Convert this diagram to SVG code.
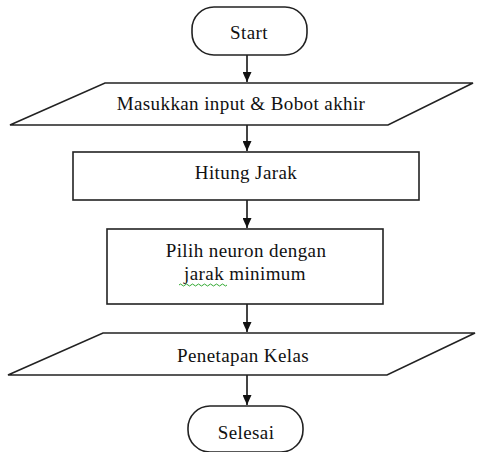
<svg xmlns="http://www.w3.org/2000/svg" width="477" height="452" viewBox="0 0 477 452">
<style>
.shape{fill:#fff;stroke:#222;stroke-width:1.6}
.lbl{font-family:"Liberation Serif","Times New Roman",serif;font-size:19px;letter-spacing:0.4px;fill:#111;text-anchor:middle;dominant-baseline:central}
.conn{stroke:#444;stroke-width:2;fill:none;marker-end:url(#arr)}
</style>
<defs>
<marker id="arr" viewBox="0 0 10 10" refX="10" refY="5" markerWidth="10" markerHeight="9" markerUnits="userSpaceOnUse" orient="auto" preserveAspectRatio="none">
<path d="M0,0 L10,5 L0,10 z" fill="#111"/>
</marker>
</defs>
<rect width="477" height="452" fill="#fff"/>
<g id="connectors">
<line class="conn" x1="247" y1="55" x2="247" y2="82"/>
<line class="conn" x1="247" y1="125" x2="247" y2="151"/>
<line class="conn" x1="247" y1="200" x2="247" y2="228"/>
<line class="conn" x1="247" y1="304" x2="247" y2="332"/>
<line class="conn" x1="247" y1="375" x2="247" y2="405"/>
</g>
<g id="start">
<rect class="shape" x="192" y="7" width="115" height="48" rx="22"/>
<text class="lbl" x="249" y="32">Start</text>
</g>
<g id="input">
<polygon class="shape" points="105,83 473,83 388,125 10,125"/>
<text class="lbl" x="241" y="103">Masukkan input &amp; Bobot akhir</text>
</g>
<g id="hitung">
<rect class="shape" x="73" y="152" width="346" height="48"/>
<text class="lbl" x="246" y="172">Hitung Jarak</text>
</g>
<g id="pilih">
<rect class="shape" x="107" y="229" width="276" height="75"/>
<text class="lbl" x="246" y="250">Pilih neuron dengan</text>
<text class="lbl" x="245" y="273">jarak minimum</text>
<path d="M179,285 q1.5,-2 3,0 t3,0 t3,0 t3,0 t3,0 t3,0 t3,0 t3,0 t3,0 t3,0 t3,0 t3,0 t3,0 t3,0 t3,0 t3,0" fill="none" stroke="#3a3" stroke-width="1"/>
</g>
<g id="penetapan">
<polygon class="shape" points="103,333 475,333 387,375 8,375"/>
<text class="lbl" x="243" y="355">Penetapan Kelas</text>
</g>
<g id="selesai">
<rect class="shape" x="188" y="406" width="115" height="46" rx="22"/>
<text class="lbl" x="246" y="432">Selesai</text>
</g>
</svg>
